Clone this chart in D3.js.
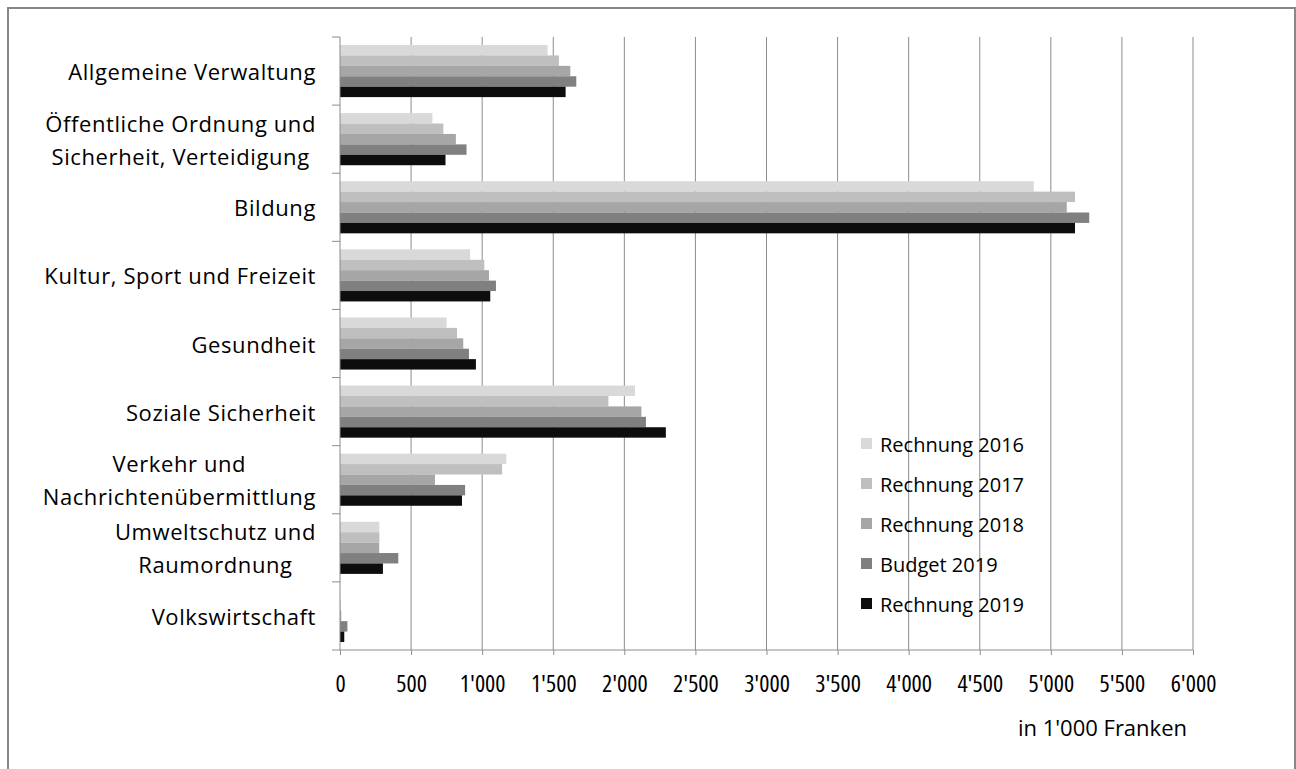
<!DOCTYPE html>
<html>
<head>
<meta charset="utf-8">
<script src="https://cdn.jsdelivr.net/npm/d3@7"></script>
<style>
  body { margin: 0; background: #fff; }
  text { font-family: "Open Sans", "Noto Sans", sans-serif; fill: #000; }
</style>
</head>
<body>
<script>
// categories (label lines) and series
const categories = [
    ["Allgemeine Verwaltung"],
    ["Öffentliche Ordnung und", "Sicherheit, Verteidigung"],
    ["Bildung"],
    ["Kultur, Sport und Freizeit"],
    ["Gesundheit"],
    ["Soziale Sicherheit"],
    ["Verkehr und", "Nachrichtenübermittlung"],
    ["Umweltschutz und", "Raumordnung"],
    ["Volkswirtschaft"]
];
const seriesNames = ["Rechnung 2016", "Rechnung 2017", "Rechnung 2018", "Budget 2019", "Rechnung 2019"];
const seriesColors = ["#d9d9d9", "#bfbfbf", "#a6a6a6", "#808080", "#0d0d0d"];

const rechnung2016 = [1460, 650, 4880, 915, 750, 2075, 1170, 277, 2];
const rechnung2017 = [1540, 727, 5170, 1015, 823, 1888, 1140, 277, 4];
const rechnung2018 = [1620, 815, 5112, 1048, 867, 2120, 668, 276, 9];
const budget2019 = [1662, 890, 5270, 1097, 907, 2152, 880, 410, 52];
const rechnung2019 = [1587, 742, 5170, 1057, 956, 2292, 858, 302, 30];
const seriesValues = [rechnung2016, rechnung2017, rechnung2018, budget2019, rechnung2019];

const xTicks = d3.range(0, 6001, 500);

const width = 1296, height = 769;
const plotLeft = 340, plotRight = 1193, plotTop = 37, plotBottom = 650;

const svg = d3.select("body").append("svg")
    .attr("width", width)
    .attr("height", height);

// outer frame
svg.append("rect")
    .attr("x", 8).attr("y", 8)
    .attr("width", 1287).attr("height", 820)
    .attr("fill", "none")
    .attr("stroke", "#878787")
    .attr("stroke-width", 2);

const x = d3.scaleLinear().domain([0, 6000]).range([plotLeft, plotRight]);
const y = d3.scaleBand().domain(d3.range(categories.length)).range([plotTop, plotBottom])
    .paddingInner(0.235).paddingOuter(0.1175);
const ySub = d3.scaleBand().domain(d3.range(seriesNames.length)).range([0, y.bandwidth()]);

// vertical gridlines
svg.append("g")
    .selectAll("line")
    .data(xTicks.slice(1))
    .enter().append("line")
    .attr("x1", d => x(d)).attr("x2", d => x(d))
    .attr("y1", plotTop).attr("y2", plotBottom)
    .attr("stroke", "#8c8c8c")
    .attr("stroke-width", 1);

// bars
const groups = svg.append("g")
    .selectAll("g")
    .data(categories.map((c, i) => i))
    .enter().append("g")
    .attr("transform", i => `translate(0,${y(i)})`);

groups.selectAll("rect")
    .data(i => seriesValues.map((vals, s) => ({s: s, v: vals[i]})))
    .enter().append("rect")
    .attr("x", x(0))
    .attr("y", d => ySub(d.s))
    .attr("width", d => x(d.v) - x(0))
    .attr("height", ySub.bandwidth())
    .attr("fill", d => seriesColors[d.s]);

// x axis
const xAxis = svg.append("g")
    .attr("transform", `translate(0,${plotBottom})`)
    .call(d3.axisBottom(x).tickValues(xTicks).tickSize(5).tickPadding(20)
        .tickFormat(d => d3.format(",")(d).replace(/,/g, "'")));
xAxis.select(".domain").attr("stroke", "#8c8c8c").attr("d", `M${plotLeft},0H${plotRight}`);
xAxis.selectAll(".tick line").attr("stroke", "#8c8c8c");
xAxis.selectAll(".tick text")
    .attr("font-size", 24)
    .attr("font-family", "'Open Sans', sans-serif")
    .style("font-stretch", "condensed");

// y axis line with category ticks
svg.append("line")
    .attr("x1", plotLeft).attr("x2", plotLeft)
    .attr("y1", plotTop).attr("y2", plotBottom)
    .attr("stroke", "#8c8c8c");
svg.append("g")
    .selectAll("line")
    .data(d3.range(categories.length + 1))
    .enter().append("line")
    .attr("x1", plotLeft - 8).attr("x2", plotLeft)
    .attr("y1", i => plotTop + i * y.step()).attr("y2", i => plotTop + i * y.step())
    .attr("stroke", "#8c8c8c");

// category labels
const lineH = 33;
const labelG = svg.append("g");
categories.forEach((lines, i) => {
    const cy = y(i) + y.bandwidth() / 2;
    const g = labelG.append("g");
    const texts = g.selectAll("text")
        .data(lines)
        .enter().append("text")
        .attr("font-size", 22)
        .attr("letter-spacing", 0.6)
        .attr("text-anchor", "middle")
        .attr("dominant-baseline", "central")
        .attr("y", (d, j) => cy + (j - (lines.length - 1) / 2) * lineH)
        .text(d => d);
    const w = d3.max(texts.nodes(), n => n.getComputedTextLength());
    texts.attr("x", 316 - w / 2);
});

// axis title
svg.append("text")
    .attr("x", 1187).attr("y", 727)
    .attr("text-anchor", "end")
    .attr("dominant-baseline", "central")
    .attr("font-size", 22)
    .text("in 1'000 Franken");

// legend
const legend = svg.append("g")
    .selectAll("g")
    .data(seriesNames)
    .enter().append("g")
    .attr("transform", (d, i) => `translate(861,${444 + i * 40})`);
legend.append("rect")
    .attr("x", 0).attr("y", -6)
    .attr("width", 11).attr("height", 11)
    .attr("fill", (d, i) => seriesColors[i]);
legend.append("text")
    .attr("x", 19).attr("y", 0)
    .attr("dominant-baseline", "central")
    .attr("font-size", 20)
    .text(d => d);
</script>
</body>
</html>
